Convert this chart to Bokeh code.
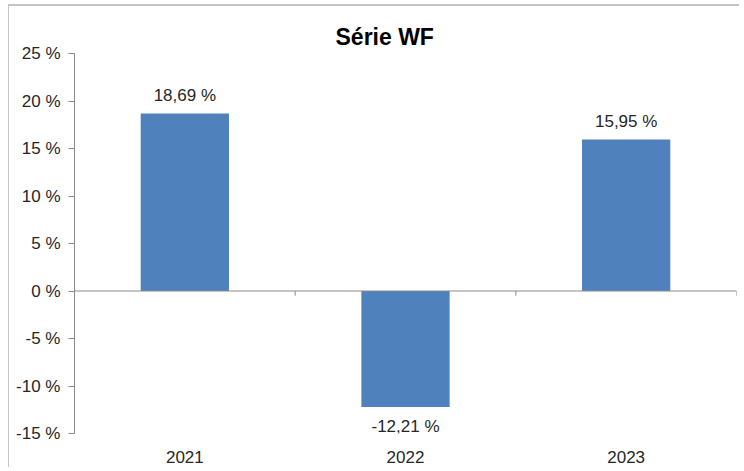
from bokeh.plotting import figure
from bokeh.models import Range1d, FixedTicker, SingleIntervalTicker, PrintfTickFormatter, Span, ColumnDataSource
from bokeh.embed import file_html
from bokeh.resources import INLINE
from bokeh.core.properties import value

# ---- data ----
title_text = "Série WF"
categories = ["2021", "2022", "2023"]
values = [18.69, -12.21, 15.95]
y_min, y_max, y_step = -15, 25, 5

n = len(categories)
xs = [i + 0.5 for i in range(n)]
labels = [f"{v:.2f}".replace(".", ",") + " %" for v in values]
baselines = ["bottom" if v >= 0 else "top" for v in values]
yoffs = [-8 if v >= 0 else 10 for v in values]

FONT = "Liberation Sans"
TXT = "#262626"
AX = "#8a8a8a"
BAR = "#4F81BD"

p = figure(width=731, height=463, output_backend="svg", toolbar_location=None,
           x_range=Range1d(0, n), y_range=Range1d(y_min, y_max),
           min_border_left=65, min_border_right=4, min_border_top=47, min_border_bottom=36,
           title=title_text)
p.title.text_font = FONT
p.title.text_font_size = "23px"
p.title.text_font_style = "bold"
p.title.text_color = "#000000"
p.title.align = "left"
p.title.offset = 261
p.title.standoff = 7

p.outline_line_color = None
p.xgrid.visible = False
p.ygrid.visible = False
p.background_fill_color = "white"
p.border_fill_color = "white"

src = ColumnDataSource(dict(x=xs, top=values, lab=labels, base=baselines, yoff=yoffs))
p.vbar(x="x", top="top", bottom=0, width=0.4, source=src, fill_color=BAR, line_color=None)
p.text(x="x", y="top", text="lab", text_baseline="base", y_offset="yoff", text_align="center",
       text_font=value(FONT), text_font_size="17px", text_color=TXT, source=src)

# zero axis line with category boundary ticks
p.add_layout(Span(location=0, dimension="width", line_color=AX, line_width=1))
bounds = [i + 1 for i in range(n)]
p.segment(x0=bounds, y0=[0] * n, x1=bounds, y1=[-0.5] * n, line_color=AX, line_width=1)

# y axis
p.yaxis.ticker = SingleIntervalTicker(interval=y_step)
p.yaxis.formatter = PrintfTickFormatter(format="%d %%")
p.yaxis.axis_line_color = AX
p.yaxis.major_tick_line_color = AX
p.yaxis.major_tick_out = 6
p.yaxis.major_tick_in = 0
p.yaxis.minor_tick_line_color = None
p.yaxis.major_label_standoff = 8
p.yaxis.major_label_text_font = FONT
p.yaxis.major_label_text_font_size = "17px"
p.yaxis.major_label_text_color = TXT

# x axis (labels only)
p.xaxis.ticker = FixedTicker(ticks=xs)
p.xaxis.major_label_overrides = {x: c for x, c in zip(xs, categories)}
p.xaxis.axis_line_color = None
p.xaxis.major_tick_line_color = None
p.xaxis.minor_tick_line_color = None
p.xaxis.major_label_standoff = 11
p.xaxis.major_label_text_font = FONT
p.xaxis.major_label_text_font_size = "17px"
p.xaxis.major_label_text_color = TXT

# outer chart-area border (top and left edges visible in the reference)
p.styles = {"margin-left": "8px", "margin-top": "4px",
            "border-top": "2px solid #c4c4c4", "border-left": "1px solid #c4c4c4"}

open("out.html", "w").write(file_html(p, INLINE))
